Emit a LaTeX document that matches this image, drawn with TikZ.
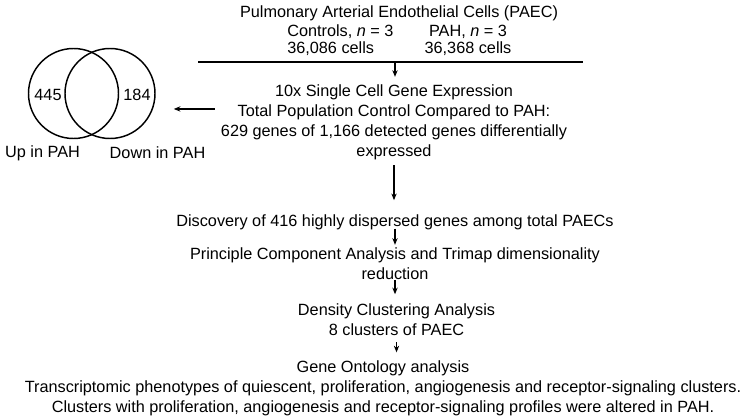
\documentclass[tikz,border=0pt]{standalone}
\usepackage{fontspec}
\setmainfont{Liberation Sans}
\usetikzlibrary{arrows.meta}

\tikzset{
  >={Stealth[length=5pt, width=4pt]},
  txt/.style={align=center, inner sep=0pt, font=\fontsize{12.2}{15}\selectfont},
  arr/.style={line width=0.9pt, ->},
  thickarr/.style={line width=1.5pt, ->},
  venn/.style={circle, draw, line width=1.1pt, minimum size=67.5pt, inner sep=0pt}
}

\begin{document}
\begin{tikzpicture}[x=0.75pt, y=-0.75pt]
  \useasboundingbox (0,0) rectangle (749,417);

  % samples
  \node[txt] (paec) at (399,13.7) {Pulmonary Arterial Endothelial Cells (PAEC)};
  \node[txt, align=left, anchor=west, font=\fontsize{12.2}{12.75}\selectfont] (ctrl) at (287,40.3) {Controls, \textit{n} = 3\\36,086 cells};
  \node[txt, font=\fontsize{12.2}{12.75}\selectfont] (pah) at (468,40.3) {PAH, \textit{n} = 3\\36,368 cells};
  \draw [line width=1.5pt] (198,62) -- (583,62);
  \coordinate (split) at (395,62);

  % pipeline
  \node[txt] (seq) at (394,122.7) {10x Single Cell Gene Expression\\Total Population Control Compared to PAH:\\629 genes of 1,166 detected genes differentially\\expressed};
  \node[txt] (disc) at (395,222.7) {Discovery of 416 highly dispersed genes among total PAECs};
  \node[txt] (pca) at (395,263.7) {Principle Component Analysis and Trimap dimensionality\\reduction};
  \node[txt] (dens) at (396.5,319.5) {Density Clustering Analysis\\8 clusters of PAEC};
  \node[txt] (go) at (383,388.2) {Gene Ontology analysis\\Transcriptomic phenotypes of quiescent, proliferation, angiogenesis and receptor-signaling clusters.\\Clusters with proliferation, angiogenesis and receptor-signaling profiles were altered in PAH.};

  % venn
  \node[venn] (upc) at (73.5,93.5) {};
  \node[venn] (downc) at (110,93.5) {};
  \node[txt] (upn) at (48,95) {445};
  \node[txt] (downn) at (137,95) {184};
  \node[txt] (uplab) at (42.5,153) {Up in PAH};
  \node[txt] (downlab) at (157.5,153) {Down in PAH};

  \draw [arr, shorten >=6pt] (split) -- (split |- seq.north);
  \draw [arr, shorten <=3.5pt, shorten >=11pt] (seq.south) -- (seq.south |- disc.north);
  \draw [arr, shorten <=-1.5pt, shorten >=2pt] (disc.south) -- (disc.south |- pca.north);
  \draw [arr, shorten <=0pt, shorten >=6.75pt] (pca.south) -- (pca.south |- dens.north);
  \draw [arr, shorten <=5pt, shorten >=6pt] (dens.south) -- (dens.south |- go.north);

  \coordinate (tail) at ([yshift=10.3pt]seq.west);
  \draw [thickarr, shorten <=4.5pt, shorten >=13.5pt] (tail) -- (tail -| downc.east);
\end{tikzpicture}
\end{document}
